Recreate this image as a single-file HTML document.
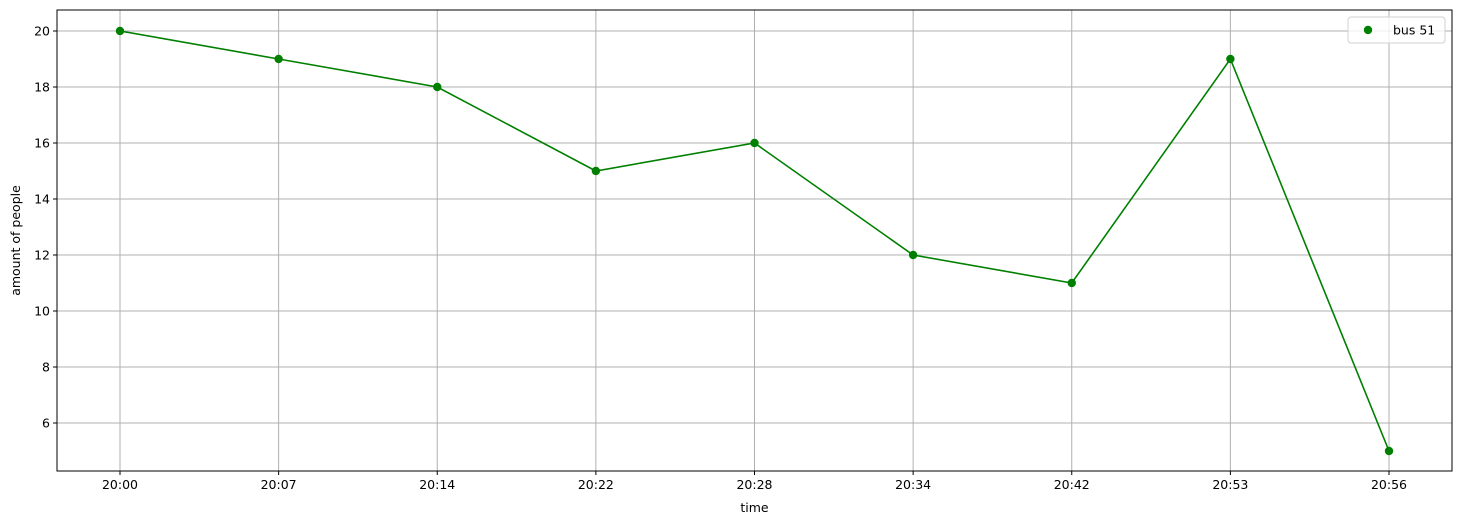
<!DOCTYPE html>
<html><head><meta charset="utf-8"><style>
body{margin:0;background:#fff}
svg text{font-family:"DejaVu Sans","Liberation Sans",sans-serif;font-size:12.5px;fill:#000}
</style></head><body>
<svg id="chart" width="1462" height="525"></svg>
<script>
const categories=["20:00","20:07","20:14","20:22","20:28","20:34","20:42","20:53","20:56"];
const values=[20,19,18,15,16,12,11,19,5];
const yTicks=[6,8,10,12,14,16,18,20];
const NS="http://www.w3.org/2000/svg";
const svg=document.getElementById('chart');
const L=57,R=1452,T=10,B=471;
const x=i=>120+i*(1389-120)/(categories.length-1);
const y=v=>31+(20-v)*28;
function mk(t,a,p){const e=document.createElementNS(NS,t);for(const k in a)e.setAttribute(k,a[k]);(p||svg).appendChild(e);return e;}
const grid=mk('g',{});


categories.forEach((c,i)=>{
  const X=x(i);
  mk('line',{x1:X,x2:X,y1:T,y2:B,stroke:'#b0b0b0','stroke-width':1},grid);
  mk('line',{x1:X,x2:X,y1:B,y2:B+4,stroke:'#000'});
  const t=mk('text',{x:X,y:B+18,'text-anchor':'middle'});t.textContent=c;
  
  
});
yTicks.forEach(v=>{
  const Y=y(v);
  mk('line',{x1:L,x2:R,y1:Y,y2:Y,stroke:'#b0b0b0','stroke-width':1},grid);
  mk('line',{x1:L-4,x2:L,y1:Y,y2:Y,stroke:'#000'});
  const t=mk('text',{x:L-7,y:Y+4.5,'text-anchor':'end'});t.textContent=v;
  
  
});
const line=mk('polyline',{points:values.map((v,i)=>x(i)+','+y(v)).join(' '),fill:'none',stroke:'#008000','stroke-width':1.6});


values.forEach((v,i)=>{
  const c=mk('circle',{cx:x(i),cy:y(v),r:4.2,fill:'#008000'});
  
  
});
const frame=mk('rect',{x:L,y:T,width:R-L,height:B-T,fill:'none',stroke:'#000','stroke-width':1});


const xt=mk('text',{x:(L+R)/2,y:512,'text-anchor':'middle'});xt.textContent='time';


const yt=mk('text',{x:20,y:(T+B)/2,'text-anchor':'middle',transform:'rotate(-90 20 '+(T+B)/2+')'});yt.textContent='amount of people';


const lg=mk('g',{});


mk('rect',{x:1348,y:17,width:97,height:26,rx:3,fill:'#fff','fill-opacity':0.8,stroke:'#d0d0d0'},lg);
mk('circle',{cx:1368,cy:30,r:4.2,fill:'#008000'},lg);
const lt=mk('text',{x:1393,y:34.5},lg);lt.textContent='bus 51';


</script>
</body></html>
